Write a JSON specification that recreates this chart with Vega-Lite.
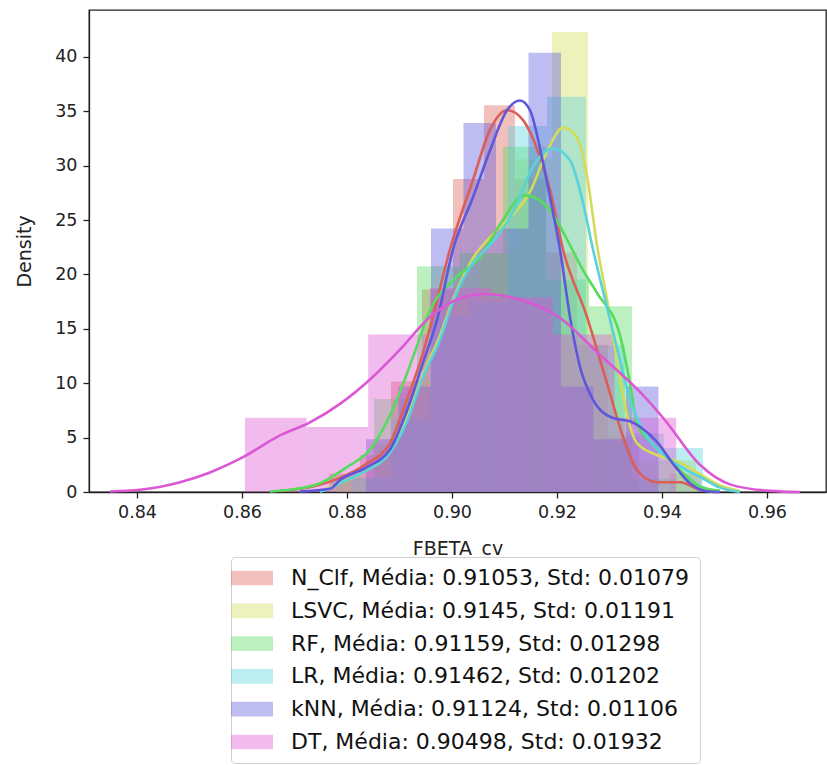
{
"$schema": "https://vega.github.io/schema/vega-lite/v6.json",
"width": 737, "height": 482,
"autosize": {"type": "none"},
"padding": {"left": 89, "top": 10, "right": 1, "bottom": 273},
"background": "white",
"config": {
 "view": {"stroke": "#222222", "strokeWidth": 1.3},
 "font": "DejaVu Sans",
 "axis": {"grid": false, "domainColor": "#222222", "domainWidth": 1.3, "tickColor": "#222222", "tickWidth": 1.3, "tickSize": 6, "labelColor": "#222222", "titleColor": "#222222", "labelFont": "DejaVu Sans", "titleFont": "DejaVu Sans", "labelFontSize": 17.5, "titleFontSize": 19, "titleFontWeight": "normal"}
},
"datasets": {
 "hist": [
  {"s":"N_Clf","x0":0.876571,"x1":0.882476,"d":1.69},
  {"s":"N_Clf","x0":0.882476,"x1":0.888381,"d":3.39},
  {"s":"N_Clf","x0":0.888381,"x1":0.894286,"d":10.16},
  {"s":"N_Clf","x0":0.894286,"x1":0.900190,"d":18.63},
  {"s":"N_Clf","x0":0.900190,"x1":0.906095,"d":28.79},
  {"s":"N_Clf","x0":0.906095,"x1":0.912000,"d":35.56},
  {"s":"N_Clf","x0":0.912000,"x1":0.917905,"d":28.79},
  {"s":"N_Clf","x0":0.917905,"x1":0.923810,"d":22.02},
  {"s":"N_Clf","x0":0.923810,"x1":0.929714,"d":13.55},
  {"s":"N_Clf","x0":0.929714,"x1":0.935619,"d":5.08},
  {"s":"N_Clf","x0":0.941524,"x1":0.947429,"d":1.69},
  {"s":"LSVC","x0":0.877905,"x1":0.884762,"d":1.46},
  {"s":"LSVC","x0":0.884762,"x1":0.891619,"d":4.37},
  {"s":"LSVC","x0":0.891619,"x1":0.898476,"d":10.2},
  {"s":"LSVC","x0":0.898476,"x1":0.905333,"d":17.5},
  {"s":"LSVC","x0":0.905333,"x1":0.912190,"d":21.9},
  {"s":"LSVC","x0":0.912190,"x1":0.919048,"d":30.6},
  {"s":"LSVC","x0":0.919048,"x1":0.925905,"d":42.3},
  {"s":"LSVC","x0":0.925905,"x1":0.932762,"d":11.7},
  {"s":"LSVC","x0":0.932762,"x1":0.939619,"d":2.9},
  {"s":"LSVC","x0":0.939619,"x1":0.946476,"d":2.9},
  {"s":"RF","x0":0.876952,"x1":0.885143,"d":1.22},
  {"s":"RF","x0":0.885143,"x1":0.893333,"d":8.55},
  {"s":"RF","x0":0.893333,"x1":0.901524,"d":20.76},
  {"s":"RF","x0":0.901524,"x1":0.909714,"d":21.98},
  {"s":"RF","x0":0.909714,"x1":0.917905,"d":31.74},
  {"s":"RF","x0":0.917905,"x1":0.926095,"d":19.54},
  {"s":"RF","x0":0.926095,"x1":0.934286,"d":17.09},
  {"s":"RF","x0":0.934286,"x1":0.942476,"d":1.22},
  {"s":"LR","x0":0.880952,"x1":0.888381,"d":1.35},
  {"s":"LR","x0":0.888381,"x1":0.895810,"d":6.73},
  {"s":"LR","x0":0.895810,"x1":0.903238,"d":16.15},
  {"s":"LR","x0":0.903238,"x1":0.910667,"d":17.5},
  {"s":"LR","x0":0.910667,"x1":0.918095,"d":33.65},
  {"s":"LR","x0":0.918095,"x1":0.925524,"d":36.35},
  {"s":"LR","x0":0.925524,"x1":0.932952,"d":13.46},
  {"s":"LR","x0":0.932952,"x1":0.940381,"d":5.38},
  {"s":"LR","x0":0.940381,"x1":0.947810,"d":4.04},
  {"s":"kNN","x0":0.883619,"x1":0.889810,"d":4.85},
  {"s":"kNN","x0":0.889810,"x1":0.896000,"d":9.69},
  {"s":"kNN","x0":0.896000,"x1":0.902190,"d":24.23},
  {"s":"kNN","x0":0.902190,"x1":0.908381,"d":33.92},
  {"s":"kNN","x0":0.908381,"x1":0.914571,"d":24.23},
  {"s":"kNN","x0":0.914571,"x1":0.920762,"d":40.38},
  {"s":"kNN","x0":0.920762,"x1":0.926952,"d":9.69},
  {"s":"kNN","x0":0.926952,"x1":0.933143,"d":4.85},
  {"s":"kNN","x0":0.933143,"x1":0.939333,"d":9.69},
  {"s":"DT","x0":0.860571,"x1":0.872305,"d":6.82},
  {"s":"DT","x0":0.872305,"x1":0.884038,"d":5.97},
  {"s":"DT","x0":0.884038,"x1":0.895771,"d":14.49},
  {"s":"DT","x0":0.895771,"x1":0.907505,"d":18.75},
  {"s":"DT","x0":0.907505,"x1":0.919238,"d":17.9},
  {"s":"DT","x0":0.919238,"x1":0.930971,"d":14.49},
  {"s":"DT","x0":0.930971,"x1":0.942705,"d":6.82}
 ],
 "kde": [
  {"s":"N_Clf","x0":0.867238,"d":0.1},{"s":"N_Clf","x0":0.873524,"d":0.5},{"s":"N_Clf","x0":0.878667,"d":1.3},{"s":"N_Clf","x0":0.883429,"d":2.5},{"s":"N_Clf","x0":0.888190,"d":4.5},{"s":"N_Clf","x0":0.891429,"d":8.5},{"s":"N_Clf","x0":0.894476,"d":12.8},{"s":"N_Clf","x0":0.896190,"d":15.8},{"s":"N_Clf","x0":0.899619,"d":22.3},{"s":"N_Clf","x0":0.904000,"d":28.7},{"s":"N_Clf","x0":0.907238,"d":33.3},{"s":"N_Clf","x0":0.910476,"d":35.1},{"s":"N_Clf","x0":0.913524,"d":34.2},{"s":"N_Clf","x0":0.916762,"d":30.8},{"s":"N_Clf","x0":0.918667,"d":27.8},{"s":"N_Clf","x0":0.921143,"d":22.3},{"s":"N_Clf","x0":0.925714,"d":16.1},{"s":"N_Clf","x0":0.929524,"d":10.0},{"s":"N_Clf","x0":0.932571,"d":5.1},{"s":"N_Clf","x0":0.935238,"d":2.0},{"s":"N_Clf","x0":0.939048,"d":0.9},{"s":"N_Clf","x0":0.943429,"d":0.9},{"s":"N_Clf","x0":0.947238,"d":0.2},{"s":"N_Clf","x0":0.951048,"d":0.0},
  {"s":"LSVC","x0":0.874857,"d":0.05},{"s":"LSVC","x0":0.878667,"d":0.8},{"s":"LSVC","x0":0.883429,"d":1.9},{"s":"LSVC","x0":0.888190,"d":3.7},{"s":"LSVC","x0":0.891429,"d":6.8},{"s":"LSVC","x0":0.894476,"d":10.8},{"s":"LSVC","x0":0.897714,"d":14.4},{"s":"LSVC","x0":0.900190,"d":17.7},{"s":"LSVC","x0":0.904000,"d":21.5},{"s":"LSVC","x0":0.907810,"d":23.7},{"s":"LSVC","x0":0.911619,"d":25.5},{"s":"LSVC","x0":0.914857,"d":27.6},{"s":"LSVC","x0":0.918095,"d":31.3},{"s":"LSVC","x0":0.921143,"d":33.5},{"s":"LSVC","x0":0.923810,"d":32.6},{"s":"LSVC","x0":0.925714,"d":29.1},{"s":"LSVC","x0":0.927619,"d":22.7},{"s":"LSVC","x0":0.929524,"d":17.7},{"s":"LSVC","x0":0.931429,"d":12.1},{"s":"LSVC","x0":0.933333,"d":7.1},{"s":"LSVC","x0":0.935238,"d":4.5},{"s":"LSVC","x0":0.939048,"d":3.4},{"s":"LSVC","x0":0.943429,"d":2.7},{"s":"LSVC","x0":0.946667,"d":1.8},{"s":"LSVC","x0":0.951048,"d":0.6},{"s":"LSVC","x0":0.954857,"d":0.1},
  {"s":"RF","x0":0.865333,"d":0.05},{"s":"RF","x0":0.869143,"d":0.2},{"s":"RF","x0":0.874857,"d":0.8},{"s":"RF","x0":0.880000,"d":2.3},{"s":"RF","x0":0.884381,"d":3.9},{"s":"RF","x0":0.889524,"d":8.5},{"s":"RF","x0":0.892571,"d":12.4},{"s":"RF","x0":0.895810,"d":16.7},{"s":"RF","x0":0.900952,"d":19.8},{"s":"RF","x0":0.905333,"d":21.6},{"s":"RF","x0":0.909143,"d":24.6},{"s":"RF","x0":0.913905,"d":27.3},{"s":"RF","x0":0.918667,"d":25.9},{"s":"RF","x0":0.922476,"d":22.7},{"s":"RF","x0":0.924952,"d":20.4},{"s":"RF","x0":0.927619,"d":18.3},{"s":"RF","x0":0.932000,"d":14.4},{"s":"RF","x0":0.933905,"d":10.0},{"s":"RF","x0":0.935238,"d":6.3},{"s":"RF","x0":0.938095,"d":4.5},{"s":"RF","x0":0.940952,"d":3.2},{"s":"RF","x0":0.944762,"d":1.4},{"s":"RF","x0":0.947238,"d":0.5},{"s":"RF","x0":0.951048,"d":0.1},
  {"s":"LR","x0":0.874857,"d":0.05},{"s":"LR","x0":0.876762,"d":0.3},{"s":"LR","x0":0.878667,"d":0.8},{"s":"LR","x0":0.883429,"d":1.9},{"s":"LR","x0":0.888190,"d":3.6},{"s":"LR","x0":0.891429,"d":6.5},{"s":"LR","x0":0.894476,"d":10.6},{"s":"LR","x0":0.897714,"d":14.0},{"s":"LR","x0":0.900190,"d":17.5},{"s":"LR","x0":0.904000,"d":21.1},{"s":"LR","x0":0.907238,"d":22.7},{"s":"LR","x0":0.911619,"d":25.7},{"s":"LR","x0":0.915429,"d":29.9},{"s":"LR","x0":0.919238,"d":31.6},{"s":"LR","x0":0.922476,"d":30.5},{"s":"LR","x0":0.924952,"d":26.6},{"s":"LR","x0":0.926857,"d":22.3},{"s":"LR","x0":0.929524,"d":17.0},{"s":"LR","x0":0.932000,"d":12.1},{"s":"LR","x0":0.933905,"d":8.5},{"s":"LR","x0":0.937143,"d":5.1},{"s":"LR","x0":0.940952,"d":3.2},{"s":"LR","x0":0.944762,"d":2.0},{"s":"LR","x0":0.947238,"d":1.4},{"s":"LR","x0":0.951048,"d":0.4},{"s":"LR","x0":0.954857,"d":0.0},
  {"s":"kNN","x0":0.871048,"d":0.05},{"s":"kNN","x0":0.876762,"d":0.3},{"s":"kNN","x0":0.878667,"d":1.1},{"s":"kNN","x0":0.883429,"d":2.2},{"s":"kNN","x0":0.888190,"d":3.9},{"s":"kNN","x0":0.891429,"d":7.5},{"s":"kNN","x0":0.894476,"d":11.9},{"s":"kNN","x0":0.897143,"d":15.8},{"s":"kNN","x0":0.900190,"d":22.3},{"s":"kNN","x0":0.904000,"d":27.1},{"s":"kNN","x0":0.907238,"d":31.4},{"s":"kNN","x0":0.910476,"d":35.1},{"s":"kNN","x0":0.912952,"d":36.0},{"s":"kNN","x0":0.914857,"d":35.1},{"s":"kNN","x0":0.917333,"d":30.3},{"s":"kNN","x0":0.919238,"d":25.7},{"s":"kNN","x0":0.920571,"d":22.3},{"s":"kNN","x0":0.922476,"d":16.1},{"s":"kNN","x0":0.924381,"d":11.5},{"s":"kNN","x0":0.926857,"d":8.5},{"s":"kNN","x0":0.930667,"d":6.8},{"s":"kNN","x0":0.933905,"d":6.5},{"s":"kNN","x0":0.935810,"d":6.0},{"s":"kNN","x0":0.939048,"d":4.6},{"s":"kNN","x0":0.942095,"d":2.6},{"s":"kNN","x0":0.945333,"d":0.8},{"s":"kNN","x0":0.948190,"d":0.1},{"s":"kNN","x0":0.951048,"d":0.0},
  {"s":"DT","x0":0.834857,"d":0.05},{"s":"DT","x0":0.840571,"d":0.2},{"s":"DT","x0":0.848190,"d":0.9},{"s":"DT","x0":0.853905,"d":1.8},{"s":"DT","x0":0.860190,"d":3.2},{"s":"DT","x0":0.867238,"d":5.2},{"s":"DT","x0":0.872952,"d":6.4},{"s":"DT","x0":0.878667,"d":8.1},{"s":"DT","x0":0.884952,"d":10.6},{"s":"DT","x0":0.890095,"d":13.1},{"s":"DT","x0":0.895810,"d":16.1},{"s":"DT","x0":0.901524,"d":17.8},{"s":"DT","x0":0.906286,"d":18.2},{"s":"DT","x0":0.912952,"d":17.7},{"s":"DT","x0":0.920571,"d":16.0},{"s":"DT","x0":0.928190,"d":12.6},{"s":"DT","x0":0.935810,"d":9.2},{"s":"DT","x0":0.940571,"d":6.6},{"s":"DT","x0":0.947238,"d":2.5},{"s":"DT","x0":0.952952,"d":0.7},{"s":"DT","x0":0.960571,"d":0.1},{"s":"DT","x0":0.966286,"d":0.0}
 ]
},
"encoding": {
 "x": {"field": "x0", "type": "quantitative", "scale": {"domain": [0.83086, 0.97124], "nice": false, "zero": false}, "axis": {"values": [0.84, 0.86, 0.88, 0.9, 0.92, 0.94, 0.96], "format": ".2f", "title": "FBETA_cv", "labelPadding": 5, "titlePadding": 19}},
 "y": {"field": "d", "type": "quantitative", "scale": {"domain": [0, 44.32], "nice": false, "zero": true}, "axis": {"values": [0, 5, 10, 15, 20, 25, 30, 35, 40], "title": "Density", "labelPadding": 6, "titlePadding": 20}}
},
"layer": [
 {"data": {"name": "hist"}, "mark": {"type": "rect", "opacity": 0.4, "strokeWidth": 0},
  "encoding": {"x2": {"field": "x1"}, "y2": {"datum": 0},
   "color": {"field": "s", "type": "nominal",
    "scale": {"domain": ["N_Clf", "LSVC", "RF", "LR", "kNN", "DT"], "range": ["#db5f57", "#d3db57", "#57db5f", "#57d3db", "#5f57db", "#db57d3"]},
    "legend": {"orient": "none", "legendX": 142, "legendY": 547, "title": null,
     "labelExpr": "{'N_Clf':'N_Clf, Média: 0.91053, Std: 0.01079','LSVC':'LSVC, Média: 0.9145, Std: 0.01191','RF':'RF, Média: 0.91159, Std: 0.01298','LR':'LR, Média: 0.91462, Std: 0.01202','kNN':'kNN, Média: 0.91124, Std: 0.01106','DT':'DT, Média: 0.90498, Std: 0.01932'}[datum.label]",
     "symbolType": "M-2,-0.7H2V0.7H-2Z", "symbolSize": 441, "symbolOpacity": 0.4, "symbolStrokeWidth": 0,
     "labelFontSize": 22, "labelFont": "DejaVu Sans", "labelColor": "#111111", "labelLimit": 700, "labelOffset": 28,
     "fillColor": "white", "strokeColor": "#d0d0d0", "cornerRadius": 4, "padding": 10, "rowPadding": 10.8}}}},
 {"data": {"name": "kde"}, "mark": {"type": "line", "strokeWidth": 2.6, "interpolate": "monotone"},
  "encoding": {"detail": {"field": "s"}, "stroke": {"field": "s", "type": "nominal", "scale": {"domain": ["N_Clf", "LSVC", "RF", "LR", "kNN", "DT"], "range": ["#db5f57", "#d3db57", "#57db5f", "#57d3db", "#5f57db", "#db57d3"]}, "legend": null}}}
]
}
